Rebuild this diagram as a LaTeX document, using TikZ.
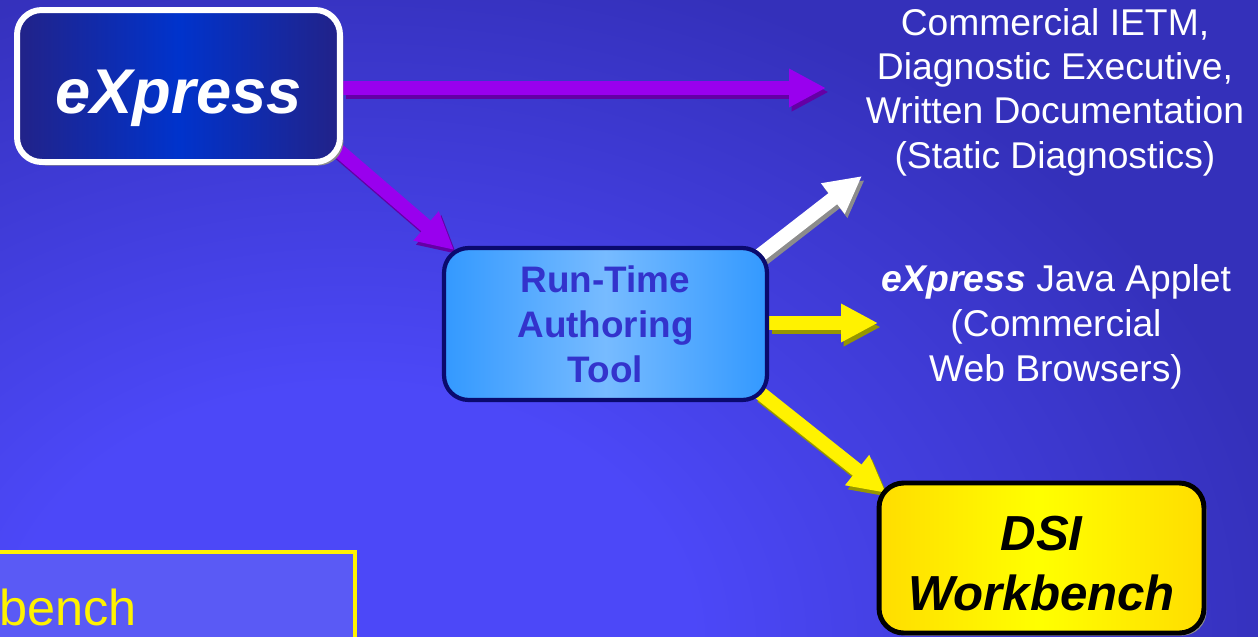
\documentclass[tikz,border=0pt]{standalone}
\usepackage{fontspec}
\setmainfont{Liberation Sans}
\usetikzlibrary{arrows.meta,shadows,calc}

\definecolor{bgInner}{RGB}{76,72,248}
\definecolor{bgOuter}{RGB}{52,48,186}
\definecolor{expressEdge}{RGB}{34,34,136}
\definecolor{expressMid}{RGB}{0,51,204}
\definecolor{rtaEdge}{RGB}{51,153,255}
\definecolor{rtaMid}{RGB}{119,187,255}
\definecolor{rtaBorder}{RGB}{10,10,110}
\definecolor{rtaText}{RGB}{51,51,204}
\definecolor{dsiEdge}{RGB}{255,221,0}
\definecolor{dsiMid}{RGB}{255,255,0}
\definecolor{arrowPurple}{RGB}{153,0,238}
\definecolor{purpleDark}{RGB}{100,0,165}
\definecolor{yellowDark}{RGB}{150,150,0}
\definecolor{benchFill}{RGB}{90,90,245}

\pgfdeclareradialshading{bgglow}{\pgfpoint{0bp}{0bp}}{color(0bp)=(bgInner); color(9bp)=(bgInner); color(25bp)=(bgOuter); color(50bp)=(bgOuter)}

\pgfdeclarelayer{back}
\pgfdeclarelayer{mid}
\pgfsetlayers{back,mid,main}

\tikzset{
	box/.style={rectangle,rounded corners=14pt,minimum width=6.46cm,minimum height=3.04cm,align=center,inner sep=0pt},
	expressbox/.style={box,draw=white,line width=3.4pt,left color=expressEdge,right color=expressEdge,middle color=expressMid,
		drop shadow={shadow xshift=2pt,shadow yshift=-2pt,fill=black!45,opacity=1},
		text=white,font=\fontsize{36}{40}\selectfont\bfseries\itshape},
	rtabox/.style={box,draw=rtaBorder,line width=2.4pt,left color=rtaEdge,right color=rtaEdge,middle color=rtaMid,
		text=rtaText,font=\fontsize{21}{25.6}\selectfont\bfseries},
	dsibox/.style={box,minimum width=6.5cm,minimum height=3cm,draw=black,line width=2.8pt,left color=dsiEdge,right color=dsiEdge,middle color=dsiMid,
		drop shadow={shadow xshift=1.5pt,shadow yshift=-1.5pt,fill=black!45,opacity=1},
		text=black,font=\fontsize{28}{34.5}\selectfont\bfseries\itshape},
	outtext/.style={align=center,text=white},
	benchbox/.style={rectangle,draw=yellow,line width=2.3pt,fill=benchFill,minimum width=8.3cm,minimum height=2.16cm},
	benchtext/.style={text=yellow,font=\fontsize{28.7}{32}\selectfont,inner sep=0pt},
	blockarrow/.style={line width=8pt,-{Triangle[length=21pt,width=20.5pt]}},
	purplearrow/.style={blockarrow,draw=arrowPurple},
	purpleshade/.style={blockarrow,draw=purpleDark},
	whitearrow/.style={blockarrow,draw=white},
	whiteshade/.style={blockarrow,draw=black!45},
	yellowarrow/.style={blockarrow,draw=yellow},
	yellowshade/.style={blockarrow,draw=yellowDark}
}

\begin{document}
\begin{tikzpicture}[x=0.02cm,y=-0.02cm]
	\useasboundingbox (0,0) rectangle (1258,636);
	\begin{pgfonlayer}{back}
		\shade[shading=bgglow] (-600,-60) rectangle (1300,1340);
	\end{pgfonlayer}

	\node[expressbox] (express) at (178.5,86)	{\raisebox{-7pt}[\height][\depth]{eXpress}};
	\node[rtabox] (rta) at (605.5,324)	{Run-Time\\Authoring\\Tool};
	\node[dsibox] (dsi) at (1041.5,558)	{\raisebox{-6pt}[\height][\depth]{\begin{tabular}{@{}c@{}}DSI\\Workbench\end{tabular}}};
	\node[outtext,font=\fontsize{21.2}{25.2}\selectfont] (static) at (1055,92)	{Commercial IETM,\\Diagnostic Executive,\\Written Documentation\\(Static Diagnostics)};
	\node[outtext,font=\fontsize{21.2}{25.6}\selectfont] (applet) at (1056,327)	{\textbf{\textit{eXpress}} Java Applet\\(Commercial\\Web Browsers)};
	\node[benchbox] (benchframe) at (147.5,606)	{};
	\node[benchtext,anchor=base west] (bench) at (-1,625)	{bench};

	\coordinate (tipIETM) at (826,88);
	\coordinate (tipRTA) at (454,250);
	\coordinate (tipWhite) at (862,176);
	\coordinate (tipApplet) at (878,323);
	\coordinate (tipDSI) at (886,493);

	\begin{pgfonlayer}{mid}
		\begin{scope}[transform canvas={xshift=1.5pt,yshift=-2.3pt}]
			\draw[purpleshade] (express.east |- tipIETM) -- (tipIETM);
			\draw[purpleshade] ($(express.south east)+(-5,-15)$) -- (tipRTA);
			\draw[whiteshade] ($(rta.north east)+(-10,10)$) -- (tipWhite);
			\draw[yellowshade] (rta.east |- tipApplet) -- (tipApplet);
			\draw[yellowshade] ($(rta.south east)+(-10,-10)$) -- (tipDSI);
		\end{scope}
		\draw[purplearrow] (express.east |- tipIETM) -- (tipIETM);
		\draw[purplearrow] ($(express.south east)+(-5,-15)$) -- (tipRTA);
		\draw[whitearrow] ($(rta.north east)+(-10,10)$) -- (tipWhite);
		\draw[yellowarrow] (rta.east |- tipApplet) -- (tipApplet);
		\draw[yellowarrow] ($(rta.south east)+(-10,-10)$) -- (tipDSI);
	\end{pgfonlayer}
\end{tikzpicture}
\end{document}
